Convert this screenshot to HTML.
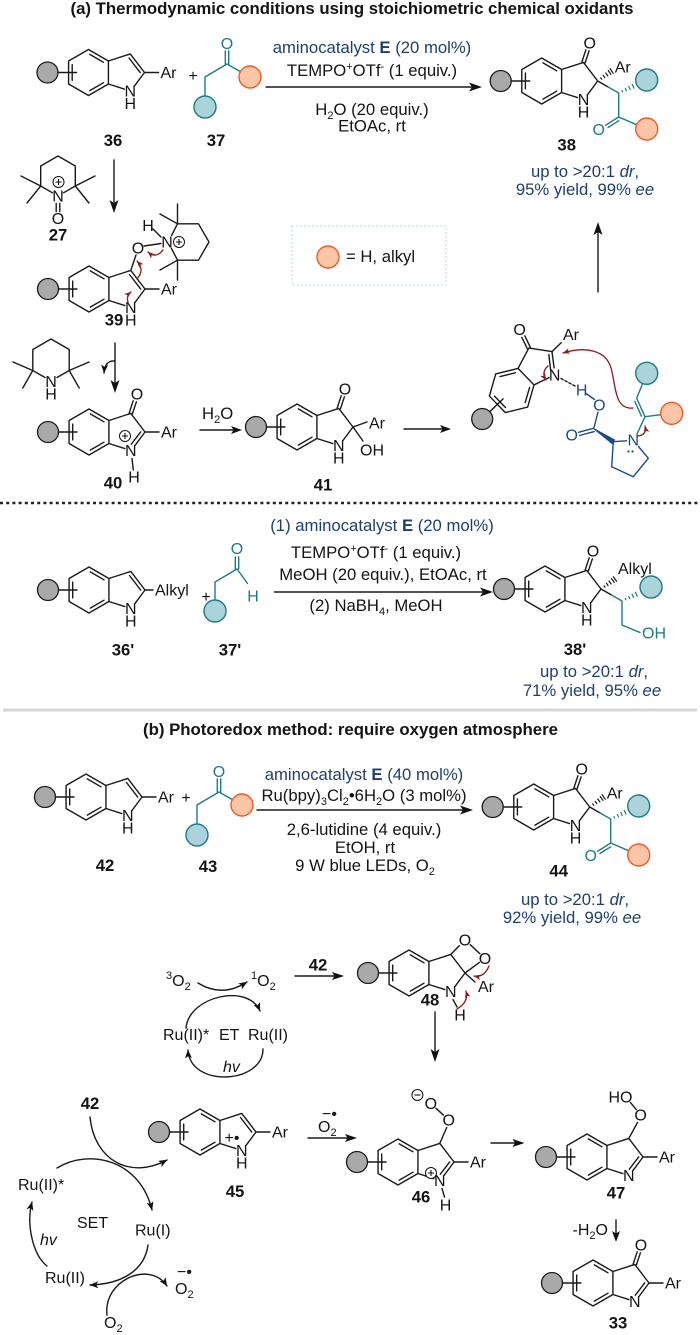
<!DOCTYPE html>
<html><head><meta charset="utf-8"><title>Scheme</title>
<style>
html,body{margin:0;padding:0;background:#fff;}
svg{display:block;}
text{font-family:"Liberation Sans",Arial,sans-serif;font-size:16px;fill:#141414;}
.b{font-weight:bold;font-size:16.7px;}
.c{font-size:16.7px;}
.m{text-anchor:middle;}
.e{text-anchor:end;}
.nv{fill:#1f3d73;}
.tt{fill:#1f7a86;}
.bt{fill:#1c4a8a;}
.i{font-style:italic;}
.k{stroke:#1a1a1a;stroke-width:1.4;fill:none;stroke-linecap:round;stroke-linejoin:round;}
.tk{stroke:#1f7a86;stroke-width:1.4;fill:none;stroke-linecap:round;stroke-linejoin:round;}
.ok{stroke:#f15a24;stroke-width:1.4;fill:none;stroke-linecap:round;}
.bk{stroke:#1c4a8a;stroke-width:1.4;fill:none;stroke-linecap:round;stroke-linejoin:round;}
.rk{stroke:#8b1c1c;stroke-width:1.3;fill:none;stroke-linecap:round;}
.gc{fill:#a9a9a9;stroke:#1a1a1a;stroke-width:1.3;}
.tc{fill:#aad4da;stroke:#1f7a86;stroke-width:1.4;}
.oc{fill:#fbc6a8;stroke:#f15a24;stroke-width:1.4;}
.ah{fill:#111;}
</style></head><body>
<svg width="700" height="1335" viewBox="0 0 700 1335" xmlns="http://www.w3.org/2000/svg">
<defs>
<marker id="ma" viewBox="0 0 10 8" refX="9.5" refY="4" markerWidth="9" markerHeight="7" orient="auto" markerUnits="userSpaceOnUse"><path d="M0,0L10,4L0,8L2.5,4Z" fill="#111"/></marker>
<marker id="mr" viewBox="0 0 10 8" refX="9.5" refY="4" markerWidth="7" markerHeight="5.6" orient="auto" markerUnits="userSpaceOnUse"><path d="M0,0L10,4L0,8L2.5,4Z" fill="#8b1c1c"/></marker>
<g id="bz" stroke="#1a1a1a" stroke-width="1.4" fill="none" stroke-linecap="round" stroke-linejoin="round">
<polygon points="0,-23 19.92,-11.5 19.92,11.5 0,23 -19.92,11.5 -19.92,-11.5"/>
<path d="M1.3,-18.1L15,-10.2M15,10.2L1.3,18.1M-16.3,7.9L-16.3,-7.9M-30.5,0L-12,0"/>
<circle cx="-41" cy="0" r="10.5" fill="#a9a9a9" stroke-width="1.3"/>
</g>
<path id="r5" d="M19.92,-11.5L41.79,-18.6L56,0L46.2,13.2M35.8,16.6L19.92,11.5" stroke="#1a1a1a" stroke-width="1.4" fill="none" stroke-linecap="round" stroke-linejoin="round"/>
<path id="d23" d="M40.5,-14.5L51.7,0.1" stroke="#1a1a1a" stroke-width="1.4" stroke-linecap="round"/>
<path id="d2n" d="M51.7,-0.1L42.3,12.2" stroke="#1a1a1a" stroke-width="1.4" stroke-linecap="round"/>
<path id="co" d="M40.2,-19.1L44.2,-31.2M43.4,-18.1L47.4,-30.2" stroke="#1a1a1a" stroke-width="1.4" stroke-linecap="round"/>
<g id="plus"><circle r="5.5" fill="#fff" stroke="#111" stroke-width="1"/><path d="M-3,0H3M0,-3V3" stroke="#111" stroke-width="1.1"/></g>
<g id="minus"><circle r="5.5" fill="#fff" stroke="#111" stroke-width="1"/><path d="M-3,0H3" stroke="#111" stroke-width="1.1"/></g>
<g id="ps">
<use href="#bz"/><use href="#r5"/><use href="#co"/>
<path d="M60.26,-1.44L58.74,-3.56M63.35,-3.03L61.25,-5.97M66.44,-4.63L63.76,-8.37M69.53,-6.22L66.27,-10.78M71.86,-7.4L68.14,-12.6" stroke="#1a1a1a" stroke-width="1.2"/>
<path d="M56,0L66.5,6" stroke="#1a1a1a" stroke-width="1.4"/>
<path d="M66.5,6L77,12L77,36L63.8,44.3M77,39.8L66.3,46.5M77,36L94.9,43.7" stroke="#1f7a86" stroke-width="1.4" fill="none" stroke-linecap="round"/>
<path d="M81.12,11.42L80.08,9.18M84.91,10.12L83.49,7.08M88.69,8.82L86.91,4.98M92.48,7.62L90.32,2.98" stroke="#1f7a86" stroke-width="1.2"/>
<circle cx="105" cy="-1" r="11" fill="#aad4da" stroke="#1f7a86" stroke-width="1.4"/>
<circle cx="105" cy="48" r="11" fill="#fbc6a8" stroke="#f15a24" stroke-width="1.4"/>
</g>
</defs>

<!-- ===== (a) ===== -->
<text x="352" y="14" class="b m" textLength="563" lengthAdjust="spacingAndGlyphs">(a) Thermodynamic conditions using stoichiometric chemical oxidants</text>

<!-- 36 -->
<g transform="translate(88.5,72.5)">
<use href="#bz"/><use href="#r5"/><use href="#d23"/>
<path class="k" d="M56,0H70"/>
<text x="72" y="5.5">Ar</text>
<text x="41.8" y="24" class="m">N</text>
<text x="41.8" y="36.5" class="m">H</text>
</g>
<text x="193" y="81" class="m" font-size="17">+</text>
<!-- 37 -->
<path class="tk" d="M225.3,51V64M228.7,51V64M227,64L205,77L205,96M227,64L240.4,71.6"/>
<circle class="tc" cx="205" cy="107" r="11"/>
<circle class="oc" cx="250" cy="77" r="11"/>
<text x="227" y="49" class="m tt">O</text>
<text x="113" y="146" class="m b">36</text>
<text x="216" y="146" class="m b">37</text>

<!-- arrow row 1 -->
<path class="k" d="M266,87H473"/>
<polygon class="ah" points="482,87 469,82.5 472,87 469,91.5"/>
<text x="372" y="53" class="m nv c">aminocatalyst <tspan font-weight="bold">E</tspan> (20 mol%)</text>
<text x="372" y="76" class="m c">TEMPO<tspan dy="-6" font-size="11">+</tspan><tspan dy="6">OTf</tspan><tspan dy="-6" font-size="11">-</tspan><tspan dy="6"> (1 equiv.)</tspan></text>
<text x="372" y="115" class="m c">H<tspan dy="4" font-size="11">2</tspan><tspan dy="-4">O (20 equiv.)</tspan></text>
<text x="372" y="131.5" class="m c">EtOAc, rt</text>

<!-- 38 -->
<g transform="translate(541.7,81)">
<use href="#ps"/>
<text x="48" y="-32.5" class="m">O</text>
<text x="41.8" y="24" class="m">N</text>
<text x="41.8" y="36.5" class="m">H</text>
<text x="73" y="-8.5">Ar</text>
<text x="57" y="54" class="m tt">O</text>
<text x="25" y="69.5" class="m b">38</text>
</g>
<text x="585" y="177" class="m nv c">up to &gt;20:1 <tspan class="i">dr</tspan>,</text>
<text x="585" y="195" class="m nv c">95% yield, 99% <tspan class="i">ee</tspan></text>

<!-- 27 -->
<path class="k" d="M40.7,186L40.7,166L58,156L75.3,166L75.3,186L63.5,192.8M40.7,186L52.5,192.8M40.7,186L21,176M40.7,186L27,203M75.3,186L95,176M75.3,186L89,203M56.2,203.5V211.5M59.8,203.5V211.5"/>
<use href="#plus" x="58.5" y="182"/>
<text x="58" y="201.5" class="m">N</text>
<text x="58" y="224" class="m">O</text>
<text x="58" y="240.5" class="m b">27</text>

<!-- arrow 36->39 -->
<path class="k" d="M114,160V204"/>
<polygon class="ah" points="114,213 109.5,200 114,203 118.5,200"/>

<!-- 39 -->
<g transform="translate(89,289)">
<use href="#bz"/><use href="#r5"/><use href="#d23"/>
<path class="k" d="M56,0H70M41.79,-18.6L47,-34"/>
<text x="72" y="5.5">Ar</text>
<text x="41.8" y="24" class="m">N</text>
<text x="41.8" y="36.5" class="m">H</text>
<text x="49" y="-35.5" class="m">O</text>
<text x="25" y="36.5" class="m b">39</text>
</g>
<path class="k" d="M144,246L161,243.5M171.5,235.5L177.5,223.8L198.5,223.8L209,242L198.5,260.2L177.5,260.2L171.5,248.5M177.5,223.8L160,214M177.5,223.8L177.5,204M177.5,260.2L160,270M177.5,260.2L177.5,280M153,229L161,237"/>
<text x="167" y="247.5" class="m">N</text>
<use href="#plus" x="179" y="242"/>
<text x="148" y="231" class="m">H</text>
<path class="rk" d="M163,250 Q156,259 148,252" marker-end="url(#mr)"/>
<path class="rk" d="M137,279 Q145,270 137,261" marker-end="url(#mr)"/>
<path class="rk" d="M128,302 Q126,296 131,292" marker-end="url(#mr)"/>

<!-- TMP-H -->
<path class="k" d="M32.8,370.5L32.8,349.5L51,339L69.2,349.5L69.2,370.5L57,377.5M32.8,370.5L45,377.5M32.8,370.5L13,362M32.8,370.5L22.8,388M69.2,370.5L89,362M69.2,370.5L79.2,388"/>
<text x="51" y="387" class="m">N</text>
<text x="51" y="399.5" class="m">H</text>

<!-- arrow 39->40 -->
<path class="k" d="M115,343V384"/>
<polygon class="ah" points="115,393 110.5,380 115,383 119.5,380"/>
<path class="k" d="M115,361 Q105,360 104,373" marker-end="url(#ma)"/>

<!-- 40 -->
<g transform="translate(89,432)">
<use href="#bz"/><use href="#r5"/><use href="#d2n"/><use href="#co"/>
<path class="k" d="M56,0H70M43,26.5L44.3,38"/>
<use href="#plus" x="36" y="4"/>
<text x="72" y="5.5">Ar</text>
<text x="41.8" y="24" class="m">N</text>
<text x="45" y="50.5" class="m">H</text>
<text x="48" y="-32.5" class="m">O</text>
<text x="24" y="56.5" class="m b">40</text>
</g>

<!-- H2O arrow -->
<text x="202" y="419" class="c">H<tspan dy="4" font-size="11">2</tspan><tspan dy="-4">O</tspan></text>
<path class="k" d="M200,430H234"/>
<polygon class="ah" points="242,430 231,426 233.5,430 231,434"/>

<!-- 41 -->
<g transform="translate(297,427)">
<use href="#bz"/><use href="#r5"/><use href="#co"/>
<path class="k" d="M56,0L70,-5M56,0L66,14"/>
<text x="72" y="1.5">Ar</text>
<text x="63" y="28.5">OH</text>
<text x="41.8" y="24" class="m">N</text>
<text x="41.8" y="36.5" class="m">H</text>
<text x="48" y="-32.5" class="m">O</text>
<text x="26" y="63.5" class="m b">41</text>
</g>

<!-- arrow 41 -> TS -->
<path class="k" d="M404,429H442"/>
<polygon class="ah" points="451,429 440,425 442.5,429 440,433"/>

<!-- TS -->
<g transform="translate(511.7,390.5) rotate(-44)">
<use href="#bz"/><use href="#r5"/><use href="#d2n"/><use href="#co"/>
</g>
<path class="k" d="M552,351.6L561.3,342.6"/>
<text x="519.6" y="335" class="m">O</text>
<text x="554.7" y="380.5" class="m">N</text>
<text x="563" y="340">Ar</text>
<path class="k" d="M561,378.5L575,386" stroke-dasharray="2.5,2"/>
<text x="581.7" y="395.5" class="m bt">H</text>
<text x="599.3" y="410.5" class="m bt">O</text>
<text x="571.7" y="440.5" class="m bt">O</text>
<text x="633.3" y="445.5" class="m bt">N</text>
<path class="bk" d="M586,393.5L594.5,399.5M598,412L594,427.5M593.3,428.3L578.5,432.3M594.2,431.6L579.6,435.5M613.3,441.7L626.5,440.8M613.3,441.7L611.7,466.7L633.3,476.7L648.3,458.3L638.5,446.5"/>
<polygon points="593.3,428.3 612.2,443.6 614.6,439.9" fill="#1c4a8a" stroke="#1c4a8a" stroke-width="1"/>
<circle cx="628.5" cy="451.5" r="1.1" fill="#1c4a8a"/><circle cx="632.5" cy="451.5" r="1.1" fill="#1c4a8a"/>
<path class="tk" d="M637,434L645,416.7L636.7,398.3L642.6,383.5M641.4,416.1L634.8,401.4M645,416.7L660.8,414.7"/>
<circle class="tc" cx="646.7" cy="373.3" r="11"/>
<circle class="oc" cx="671.7" cy="413.3" r="11"/>
<path class="rk" d="M633,408 C614,410 616,385 611,368 C606,350 585,346 563,353" marker-end="url(#mr)"/>
<path class="rk" d="M548,366 Q541,372 546,380" marker-end="url(#mr)"/>
<path class="rk" d="M638,436 Q647,435 645,426" marker-end="url(#mr)"/>

<!-- up arrow -->
<path class="k" d="M598,292V232"/>
<polygon class="ah" points="598,222 593.5,235 598,232 602.5,235"/>

<!-- legend -->
<rect x="292" y="226" width="154" height="59" fill="none" stroke="#c8eef2" stroke-width="1.6" stroke-dasharray="2,2"/>
<circle class="oc" cx="328" cy="257" r="11"/>
<text x="346" y="262" class="c">= H, alkyl</text>

<!-- dotted separator -->
<line x1="0" y1="503" x2="700" y2="503" stroke="#222" stroke-width="2.4" stroke-dasharray="3,3.2"/>

<!-- 36' -->
<g transform="translate(89,590)">
<use href="#bz"/><use href="#r5"/><use href="#d23"/>
<path class="k" d="M56,0H64"/>
<text x="66" y="5.5">Alkyl</text>
<text x="41.8" y="24" class="m">N</text>
<text x="41.8" y="36.5" class="m">H</text>
</g>
<text x="206" y="602" class="m" font-size="17">+</text>
<!-- 37' -->
<path class="tk" d="M235.3,557V569M238.7,557V569M237,569L215,582V600M237,569L247.5,583.5"/>
<circle class="tc" cx="215" cy="611" r="11"/>
<text x="237" y="554" class="m tt">O</text>
<text x="253" y="601.5" class="m tt">H</text>
<text x="123" y="655.5" class="m b">36'</text>
<text x="230" y="655.5" class="m b">37'</text>

<path class="k" d="M274.5,592H484"/>
<polygon class="ah" points="493,592 480,587.5 483,592 480,596.5"/>
<text x="382" y="531" class="m nv c">(1) aminocatalyst <tspan font-weight="bold">E</tspan> (20 mol%)</text>
<text x="376" y="558" class="m c">TEMPO<tspan dy="-6" font-size="11">+</tspan><tspan dy="6">OTf</tspan><tspan dy="-6" font-size="11">-</tspan><tspan dy="6"> (1 equiv.)</tspan></text>
<text x="383" y="580" class="m c">MeOH (20 equiv.), EtOAc, rt</text>
<text x="376" y="611" class="m c">(2) NaBH<tspan dy="4" font-size="11">4</tspan><tspan dy="-4">, MeOH</tspan></text>

<!-- 38' -->
<g transform="translate(545,589)">
<use href="#bz"/><use href="#r5"/><use href="#co"/>
<path d="M60.26,-1.44L58.74,-3.56M63.35,-3.03L61.25,-5.97M66.44,-4.63L63.76,-8.37M69.53,-6.22L66.27,-10.78M71.86,-7.4L68.14,-12.6" stroke="#1a1a1a" stroke-width="1.2"/>
<path class="k" d="M56,0L66.5,6"/>
<path class="tk" d="M66.5,6L77,12L77,36L95,43.5"/>
<path d="M81.12,11.42L80.08,9.18M84.91,10.12L83.49,7.08M88.69,8.82L86.91,4.98M92.48,7.62L90.32,2.98" stroke="#1f7a86" stroke-width="1.2"/>
<circle class="tc" cx="106" cy="-2" r="11"/>
<text x="48" y="-32.5" class="m">O</text>
<text x="41.8" y="24" class="m">N</text>
<text x="41.8" y="36.5" class="m">H</text>
<text x="73" y="-15">Alkyl</text>
<text x="97" y="49.5" class="tt">OH</text>
<text x="30" y="66" class="m b">38'</text>
</g>
<text x="594" y="677" class="m nv c">up to &gt;20:1 <tspan class="i">dr</tspan>,</text>
<text x="592" y="696" class="m nv c">71% yield, 95% <tspan class="i">ee</tspan></text>

<!-- gray separator -->
<rect x="3" y="708.5" width="694" height="3" fill="#d6d6d6"/>

<!-- ===== (b) ===== -->
<text x="350.5" y="735" class="b m" textLength="415" lengthAdjust="spacingAndGlyphs">(b) Photoredox method: require oxygen atmosphere</text>

<!-- 42 -->
<g transform="translate(86,797)">
<use href="#bz"/><use href="#r5"/><use href="#d23"/>
<path class="k" d="M56,0H70"/>
<text x="72" y="5.5">Ar</text>
<text x="41.8" y="24" class="m">N</text>
<text x="41.8" y="36.5" class="m">H</text>
</g>
<text x="186" y="803" class="m" font-size="17">+</text>
<!-- 43 -->
<path class="tk" d="M217.3,779V792M220.7,779V792M219,792L197,805L197,824M219,792L232.4,799.6"/>
<circle class="tc" cx="197" cy="835" r="11"/>
<circle class="oc" cx="242" cy="805" r="11"/>
<text x="219" y="777" class="m tt">O</text>
<text x="105" y="871" class="m b">42</text>
<text x="208" y="872" class="m b">43</text>

<path class="k" d="M257,810H464"/>
<polygon class="ah" points="473,810 460,805.5 463,810 460,814.5"/>
<text x="364" y="780" class="m nv c">aminocatalyst <tspan font-weight="bold">E</tspan> (40 mol%)</text>
<text x="364" y="801" class="m c">Ru(bpy)<tspan dy="4" font-size="11">3</tspan><tspan dy="-4">Cl</tspan><tspan dy="4" font-size="11">2</tspan><tspan dy="-4">•6H</tspan><tspan dy="4" font-size="11">2</tspan><tspan dy="-4">O (3 mol%)</tspan></text>
<text x="364" y="835" class="m c">2,6-lutidine (4 equiv.)</text>
<text x="365" y="853" class="m c">EtOH, rt</text>
<text x="365" y="871" class="m c">9 W blue LEDs, O<tspan dy="4" font-size="11">2</tspan></text>

<!-- 44 -->
<g transform="translate(533.7,807)">
<use href="#ps"/>
<text x="48" y="-32.5" class="m">O</text>
<text x="41.8" y="24" class="m">N</text>
<text x="41.8" y="36.5" class="m">H</text>
<text x="73" y="-8.5">Ar</text>
<text x="57" y="54" class="m tt">O</text>
<text x="25" y="69.5" class="m b">44</text>
</g>
<text x="575" y="905" class="m nv c">up to &gt;20:1 <tspan class="i">dr</tspan>,</text>
<text x="572" y="923" class="m nv c">92% yield, 99% <tspan class="i">ee</tspan></text>

<!-- ET cycle -->
<text x="166" y="986"><tspan font-size="11" dy="-7">3</tspan><tspan dy="7">O</tspan><tspan font-size="11" dy="4">2</tspan></text>
<text x="251" y="986"><tspan font-size="11" dy="-7">1</tspan><tspan dy="7">O</tspan><tspan font-size="11" dy="4">2</tspan></text>
<path class="k" d="M186,1028 C189,996 248,983 260,1011" marker-end="url(#ma)"/>
<path class="k" d="M198,983 Q222,998 247,982" marker-end="url(#ma)"/>
<path class="k" d="M263,1049 C263,1084 190,1088 188,1050" marker-end="url(#ma)"/>
<text x="163" y="1040">Ru(II)*</text>
<text x="219" y="1040">ET</text>
<text x="248" y="1040">Ru(II)</text>
<text x="223" y="1072" class="i">hv</text>

<text x="318" y="970.5" class="m b">42</text>
<path class="k" d="M295,976H335"/>
<polygon class="ah" points="344,976 332,972 334.5,976 332,980"/>

<!-- 48 -->
<g transform="translate(409,973)">
<use href="#bz"/><use href="#r5"/>
<path class="k" d="M41.79,-18.6L50.3,-27.3M61.2,-28.3L70.8,-19.4M70.4,-10.6L56,0M56,0L66,9M44,26.5L48,34"/>
<text x="56" y="-27.5" class="m">O</text>
<text x="76" y="-9.2" class="m">O</text>
<text x="69" y="19">Ar</text>
<text x="41.8" y="24" class="m">N</text>
<text x="51" y="47.5" class="m">H</text>
<text x="21" y="32.5" class="m b">48</text>
<path class="rk" d="M80,-7 Q75,5 65,3" marker-end="url(#mr)"/>
<path class="rk" d="M48,36 Q60,29 57,18" marker-end="url(#mr)"/>
</g>
<path class="k" d="M435,1012V1053"/>
<polygon class="ah" points="435,1062 430.5,1049 435,1052 439.5,1049"/>

<!-- SET cycle -->
<text x="90" y="1109" class="m b">42</text>
<path class="k" d="M90,1117 C94,1160 130,1180 167,1160" marker-end="url(#ma)"/>
<path class="k" d="M57,1168 C90,1148 140,1160 152,1210" marker-end="url(#ma)"/>
<path class="k" d="M47,1266 C33,1255 26,1225 32,1202" marker-end="url(#ma)"/>
<path class="k" d="M148,1245 C145,1268 125,1284 90,1285" marker-end="url(#ma)"/>
<path class="k" d="M107,1315 C103,1280 150,1260 167,1286" marker-end="url(#ma)"/>
<text x="18" y="1190">Ru(II)*</text>
<text x="77" y="1228">SET</text>
<text x="135" y="1235.5">Ru(I)</text>
<text x="40" y="1245" class="i">hv</text>
<text x="45" y="1283">Ru(II)</text>
<text x="175" y="1294">O<tspan dy="4" font-size="11">2</tspan></text>
<text x="177" y="1277" font-size="12">−•</text>
<text x="104" y="1328">O<tspan dy="4" font-size="11">2</tspan></text>

<!-- 45 -->
<g transform="translate(200,1132)">
<use href="#bz"/><use href="#r5"/><use href="#d23"/>
<path class="k" d="M56,0H70"/>
<text x="72" y="5.5">Ar</text>
<text x="41.8" y="24" class="m">N</text>
<text x="41.8" y="36.5" class="m">H</text>
<text x="32" y="11" class="m" font-size="12">+•</text>
<text x="35" y="65" class="m b">45</text>
</g>

<!-- arrow 45->46 -->
<text x="318" y="1132">O<tspan dy="4" font-size="11">2</tspan></text>
<text x="322" y="1119" font-size="12">−•</text>
<path class="k" d="M308,1138H348"/>
<polygon class="ah" points="357,1138 345,1134 347.5,1138 345,1142"/>

<!-- 46 -->
<g transform="translate(398,1162)">
<use href="#bz"/><use href="#r5"/><use href="#d2n"/>
<path class="k" d="M56,0H70M41.79,-18.6L48.7,-34.5M45.5,-46.8L38,-53.7M44,26.5L46.5,35"/>
<use href="#plus" x="33" y="11"/>
<text x="72" y="5.5">Ar</text>
<text x="41.8" y="24" class="m">N</text>
<text x="47.5" y="48.5" class="m">H</text>
<text x="50.7" y="-36.5" class="m">O</text>
<text x="32.8" y="-53" class="m">O</text>
<use href="#minus" x="19.4" y="-67"/>
<text x="23" y="40.5" class="m b">46</text>
</g>

<!-- arrow 46->47 -->
<path class="k" d="M491,1143H515"/>
<polygon class="ah" points="524.5,1143 512.5,1139 515,1143 512.5,1147"/>

<!-- 47 -->
<g transform="translate(587,1157)">
<use href="#bz"/><use href="#r5"/><use href="#d2n"/>
<path class="k" d="M56,0H70M41.79,-18.6L50.5,-34.5M49.2,-47.4L43.4,-54.6"/>
<text x="72" y="5.5">Ar</text>
<text x="41.8" y="24" class="m">N</text>
<text x="53.6" y="-36.5" class="m">O</text>
<text x="33.5" y="-54.5" class="m">HO</text>
<text x="29" y="41.5" class="m b">47</text>
</g>

<!-- -H2O -->
<text x="608" y="1235" class="e">-H<tspan dy="4" font-size="11">2</tspan><tspan dy="-4">O</tspan></text>
<path class="k" d="M616,1220V1234"/>
<polygon class="ah" points="616,1242 612,1231 616,1233.5 620,1231"/>

<!-- 33 -->
<g transform="translate(593,1283)">
<use href="#bz"/><use href="#r5"/><use href="#d2n"/><use href="#co"/>
<path class="k" d="M56,0H70"/>
<text x="72" y="5.5">Ar</text>
<text x="41.8" y="24" class="m">N</text>
<text x="48" y="-32.5" class="m">O</text>
<text x="25" y="45.5" class="m b">33</text>
</g>
</svg>
</body></html>
